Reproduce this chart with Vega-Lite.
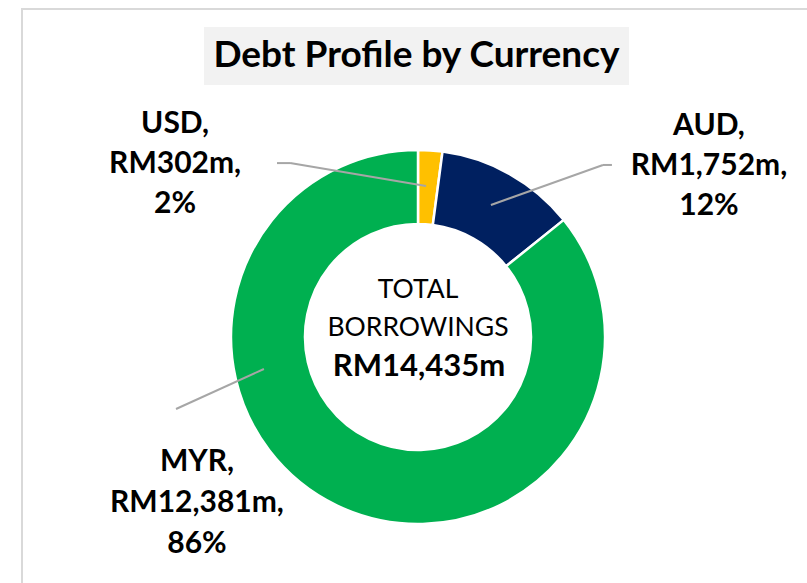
{
  "$schema": "https://vega.github.io/schema/vega-lite/v6.json",
  "width": 792,
  "height": 656,
  "autosize": {"type": "none"},
  "padding": {"left": 22, "top": 9, "right": 0, "bottom": 0},
  "background": "white",
  "config": {"view": {"stroke": "#d9d9d9", "strokeWidth": 2}, "font": "Lato"},
  "data": {"values": [
    {"currency": "USD", "amount": 302, "pct": 2, "label": "USD,\nRM302m,\n2%"},
    {"currency": "AUD", "amount": 1752, "pct": 12, "label": "AUD,\nRM1,752m,\n12%"},
    {"currency": "MYR", "amount": 12381, "pct": 86, "label": "MYR,\nRM12,381m,\n86%"}
  ]},
  "layer": [
    {
      "mark": {"type": "arc", "radius": 187, "radius2": 113, "stroke": "white", "strokeWidth": 2.5},
      "encoding": {
        "theta": {"field": "amount", "type": "quantitative", "stack": true},
        "order": {"field": "amount", "type": "quantitative", "sort": "ascending"},
        "color": {"field": "currency", "type": "nominal", "scale": {"domain": ["USD", "AUD", "MYR"], "range": ["#FFC000", "#002060", "#00B050"]}, "legend": null}
      }
    },
    {
      "data": {"values": [{"title": "Debt Profile by Currency"}]},
      "layer": [
        {
          "mark": {"type": "rect", "fill": "#F2F2F2"},
          "encoding": {
            "x": {"datum": -1.144, "type": "quantitative", "scale": {"domain": [-2.11765, 2.11765], "nice": false, "zero": false}, "axis": null},
            "x2": {"datum": 1.128},
            "y": {"datum": 1.658, "type": "quantitative", "scale": {"domain": [-1.75401, 1.75401], "nice": false, "zero": false}, "axis": null},
            "y2": {"datum": 1.348}
          }
        },
        {
          "mark": {"type": "text", "fontSize": 37, "fontWeight": "bold", "align": "center", "baseline": "middle", "color": "#000000"},
          "encoding": {
            "text": {"field": "title", "type": "nominal"},
            "x": {"datum": -0.008, "type": "quantitative"},
            "y": {"datum": 1.503, "type": "quantitative"}
          }
        }
      ]
    },
    {
      "transform": [{"filter": "datum.currency === 'USD'"}],
      "layer": [
        {
          "mark": {"type": "rule", "color": "#A6A6A6", "strokeWidth": 2},
          "encoding": {"x": {"datum": -0.754, "type": "quantitative"}, "y": {"datum": 0.930, "type": "quantitative"}, "x2": {"datum": -0.684}, "y2": {"datum": 0.930}}
        },
        {
          "mark": {"type": "rule", "color": "#A6A6A6", "strokeWidth": 2},
          "encoding": {"x": {"datum": -0.684, "type": "quantitative"}, "y": {"datum": 0.930, "type": "quantitative"}, "x2": {"datum": 0.043}, "y2": {"datum": 0.807}}
        },
        {
          "mark": {"type": "text", "lineBreak": "\n", "fontSize": 30, "fontWeight": "bold", "lineHeight": 40, "align": "center", "baseline": "middle", "color": "#000000"},
          "encoding": {"text": {"field": "label", "type": "nominal"}, "x": {"datum": -1.299, "type": "quantitative"}, "y": {"datum": 1.139, "type": "quantitative"}}
        }
      ]
    },
    {
      "transform": [{"filter": "datum.currency === 'AUD'"}],
      "layer": [
        {
          "mark": {"type": "rule", "color": "#A6A6A6", "strokeWidth": 2},
          "encoding": {"x": {"datum": 1.037, "type": "quantitative"}, "y": {"datum": 0.920, "type": "quantitative"}, "x2": {"datum": 0.989}, "y2": {"datum": 0.920}}
        },
        {
          "mark": {"type": "rule", "color": "#A6A6A6", "strokeWidth": 2},
          "encoding": {"x": {"datum": 0.989, "type": "quantitative"}, "y": {"datum": 0.920, "type": "quantitative"}, "x2": {"datum": 0.390}, "y2": {"datum": 0.706}}
        },
        {
          "mark": {"type": "text", "lineBreak": "\n", "fontSize": 30, "fontWeight": "bold", "lineHeight": 40, "align": "center", "baseline": "middle", "color": "#000000"},
          "encoding": {"text": {"field": "label", "type": "nominal"}, "x": {"datum": 1.556, "type": "quantitative"}, "y": {"datum": 1.126, "type": "quantitative"}}
        }
      ]
    },
    {
      "transform": [{"filter": "datum.currency === 'MYR'"}],
      "layer": [
        {
          "mark": {"type": "rule", "color": "#A6A6A6", "strokeWidth": 2},
          "encoding": {"x": {"datum": -1.294, "type": "quantitative"}, "y": {"datum": -0.385, "type": "quantitative"}, "x2": {"datum": -0.824}, "y2": {"datum": -0.171}}
        },
        {
          "mark": {"type": "text", "lineBreak": "\n", "fontSize": 30, "fontWeight": "bold", "lineHeight": 41, "align": "center", "baseline": "middle", "color": "#000000"},
          "encoding": {"text": {"field": "label", "type": "nominal"}, "x": {"datum": -1.182, "type": "quantitative"}, "y": {"datum": -0.668, "type": "quantitative"}}
        }
      ]
    },
    {
      "data": {"values": [{"caption": "TOTAL\nBORROWINGS", "total": "RM14,435m"}]},
      "layer": [
        {
          "mark": {"type": "text", "lineBreak": "\n", "fontSize": 26.5, "lineHeight": 37.5, "align": "center", "baseline": "middle", "color": "#000000"},
          "encoding": {"text": {"field": "caption", "type": "nominal"}, "x": {"datum": 0.0, "type": "quantitative"}, "y": {"datum": 0.251, "type": "quantitative"}}
        },
        {
          "mark": {"type": "text", "fontSize": 31, "fontWeight": "bold", "align": "center", "baseline": "middle", "color": "#000000"},
          "encoding": {"text": {"field": "total", "type": "nominal"}, "x": {"datum": 0.005, "type": "quantitative"}, "y": {"datum": -0.160, "type": "quantitative"}}
        }
      ]
    }
  ]
}
